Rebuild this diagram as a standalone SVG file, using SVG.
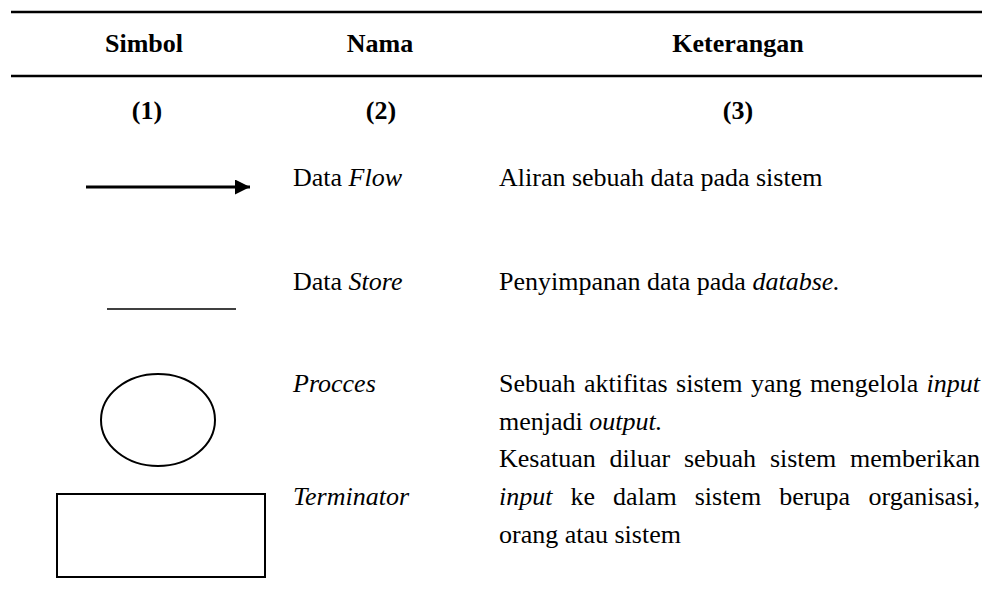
<svg xmlns="http://www.w3.org/2000/svg" width="982" height="596" viewBox="0 0 982 596">
<defs>
<style>
.t{font-family:"Liberation Serif","Times New Roman",serif;font-size:26px;fill:#000}
.b{font-weight:bold}
.i{font-style:italic}
.rule{stroke:#000;stroke-width:2.5}
.sh{fill:none;stroke:#000;stroke-width:2}
</style>
<marker id="ah" viewBox="0 0 10 10" refX="10" refY="5" markerWidth="5" markerHeight="5" orient="auto" markerUnits="strokeWidth"><path d="M0,0L10,5L0,10z" fill="#000"/></marker>
</defs>
<rect width="982" height="596" fill="#fff"/>
<g id="table-rules">
<line class="rule" x1="11" y1="12" x2="982" y2="12"/>
<line class="rule" x1="11" y1="76" x2="982" y2="76"/>
</g>
<g id="header">
<text class="t b" x="144" y="52" text-anchor="middle">Simbol</text>
<text class="t b" x="380" y="52" text-anchor="middle">Nama</text>
<text class="t b" x="738" y="52" text-anchor="middle">Keterangan</text>
<text class="t b" x="147" y="119" text-anchor="middle">(1)</text>
<text class="t b" x="381" y="119" text-anchor="middle">(2)</text>
<text class="t b" x="738" y="119" text-anchor="middle">(3)</text>
</g>
<g id="connectors">
<line x1="86" y1="187" x2="250" y2="187" stroke="#000" stroke-width="3" marker-end="url(#ah)"/>
<line x1="107" y1="309" x2="236" y2="309" stroke="#000" stroke-width="1.3"/>
</g>
<g id="row-flow">
<text class="t" x="293" y="186">Data <tspan class="i">Flow</tspan></text>
<text class="t" x="499" y="186">Aliran sebuah data pada sistem</text>
</g>
<g id="row-store">
<text class="t" x="293" y="290">Data <tspan class="i">Store</tspan></text>
<text class="t" x="499" y="290">Penyimpanan data pada <tspan class="i">databse.</tspan></text>
</g>
<g id="row-process">
<ellipse class="sh" cx="158" cy="420" rx="57" ry="46"/>
<text class="t i" x="293" y="392">Procces</text>
<text class="t" y="392"><tspan x="499">Sebuah</tspan><tspan x="583.9">aktifitas</tspan><tspan x="676.1">sistem</tspan><tspan x="750.9">yang</tspan><tspan x="809.9">mengelola</tspan><tspan x="980" text-anchor="end" class="i">input</tspan></text>
<text class="t" x="499" y="430">menjadi <tspan class="i">output.</tspan></text>
</g>
<g id="row-terminator">
<rect class="sh" x="57" y="494" width="208" height="83"/>
<text class="t i" x="293" y="505">Terminator</text>
<text class="t" y="467"><tspan x="499">Kesatuan</tspan><tspan x="609.5">diluar</tspan><tspan x="683.9">sebuah</tspan><tspan x="769.9">sistem</tspan><tspan x="980" text-anchor="end">memberikan</tspan></text>
<text class="t" y="505"><tspan x="499" class="i">input</tspan><tspan x="570.5">ke</tspan><tspan x="613.1">dalam</tspan><tspan x="694.7">sistem</tspan><tspan x="779.2">berupa</tspan><tspan x="980" text-anchor="end">organisasi,</tspan></text>
<text class="t" x="499" y="543">orang atau sistem</text>
</g>
</svg>
